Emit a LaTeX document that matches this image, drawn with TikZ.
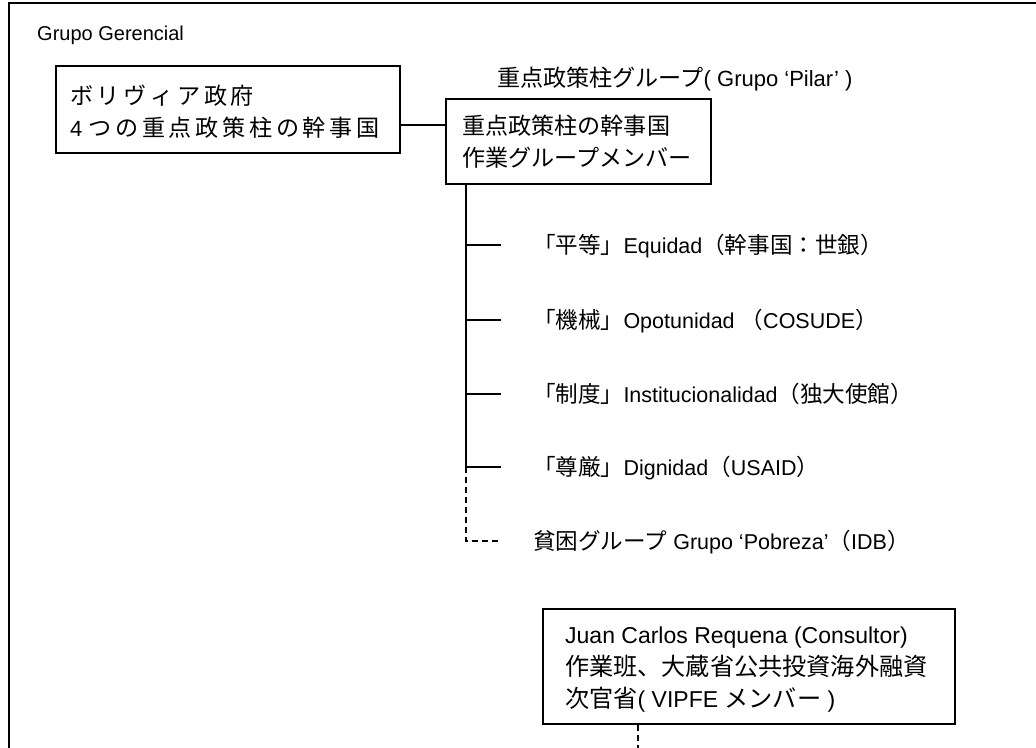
\documentclass[tikz,border=0pt]{standalone}
\usepackage{fontspec}
\setmainfont{Liberation Sans}
\newfontfamily\jpf[Scale=1.05]{Noto Sans CJK JP}
\newcommand\J[1]{{\jpf #1}}
\newcommand\JW[1]{{\jpf\addfontfeature{LetterSpace=16}#1}}
\begin{document}
\begin{tikzpicture}[x=1pt,y=-1pt,
  box/.style={draw, line width=1.6pt, inner sep=0pt, anchor=north west},
  conn/.style={line width=1.6pt},
  dconn/.style={line width=1.6pt, dash pattern=on 6pt off 4pt},
  txt/.style={anchor=base west, inner sep=0pt, font=\fontsize{#1}{#1}\selectfont}]
\useasboundingbox (0,0) rectangle (1036,747);
% outer frame (cropped)
\draw[line width=1.8pt] (9,752) -- (9,3) -- (1042,3);
\node[txt=20] (gg) at (37,40) {Grupo Gerencial};

% boxes
\node[box, minimum width=344pt, minimum height=87pt] (b1) at (55,65) {};
\node[txt=22] (b1a) at (70,104) {\JW{ボリヴィア政府}};
\node[txt=22] (b1b) at (70,136) {4 \JW{つの重点政策柱の幹事国}};

\node[box, minimum width=265pt, minimum height=85pt] (b2) at (445,98) {};
\node[txt=22] (b2a) at (462,134) {\J{重点政策柱の幹事国}};
\node[txt=22] (b2b) at (462,166) {\J{作業グループメンバー}};
\node[txt=22] (pl) at (497,86) {\J{重点政策柱グループ}( Grupo ‘Pilar’ )};

\node[box, minimum width=412pt, minimum height=115pt] (b3) at (542,608) {};
\node[txt=23] (b3a) at (565,643) {Juan Carlos Requena (Consultor)};
\node[txt=23] (b3b) at (565,675) {\J{作業班、大蔵省公共投資海外融資}};
\node[txt=23] (b3c) at (565,707) {\J{次官省}( VIPFE \J{メンバー} )};

% connector box1 - box2
\coordinate (j) at (420,125);
\draw[conn] (b1.east |- j) -- (b2.west |- j);

% list items
\node[txt=21.5] (i1) at (533,253) {\J{「平等」}Equidad\J{（幹事国：世銀）}};
\node[txt=21.5] (i2) at (533,328) {\J{「機械」}Opotunidad \J{（}COSUDE\J{）}};
\node[txt=21.5] (i3) at (533,402) {\J{「制度」}Institucionalidad\J{（独大使館）}};
\node[txt=21.5] (i4) at (533,475) {\J{「尊厳」}Dignidad\J{（}USAID\J{）}};
\node[txt=21.5] (i5) at (533,549) {\J{貧困グループ} Grupo ‘Pobreza’\J{（}IDB\J{）}};

% trunk and branches
\coordinate (k1) at (466,245); \coordinate (e1) at (501,245);
\coordinate (k2) at (466,320); \coordinate (e2) at (501,320);
\coordinate (k3) at (466,394); \coordinate (e3) at (501,394);
\coordinate (k4) at (466,467); \coordinate (e4) at (501,467);
\coordinate (k5) at (466,541); \coordinate (e5) at (501,541);
\draw[conn] (b2.south -| k1) -- (k4);
\draw[conn] (k1) -- (e1);
\draw[conn] (k2) -- (e2);
\draw[conn] (k3) -- (e3);
\draw[conn] (k4) -- (e4);
\draw[dconn] (k4) -- (k5) -- (e5);

% dashed line below box3
\coordinate (jb) at (638,752);
\draw[dconn] (b3.south -| jb) -- (jb);
\end{tikzpicture}
\end{document}
